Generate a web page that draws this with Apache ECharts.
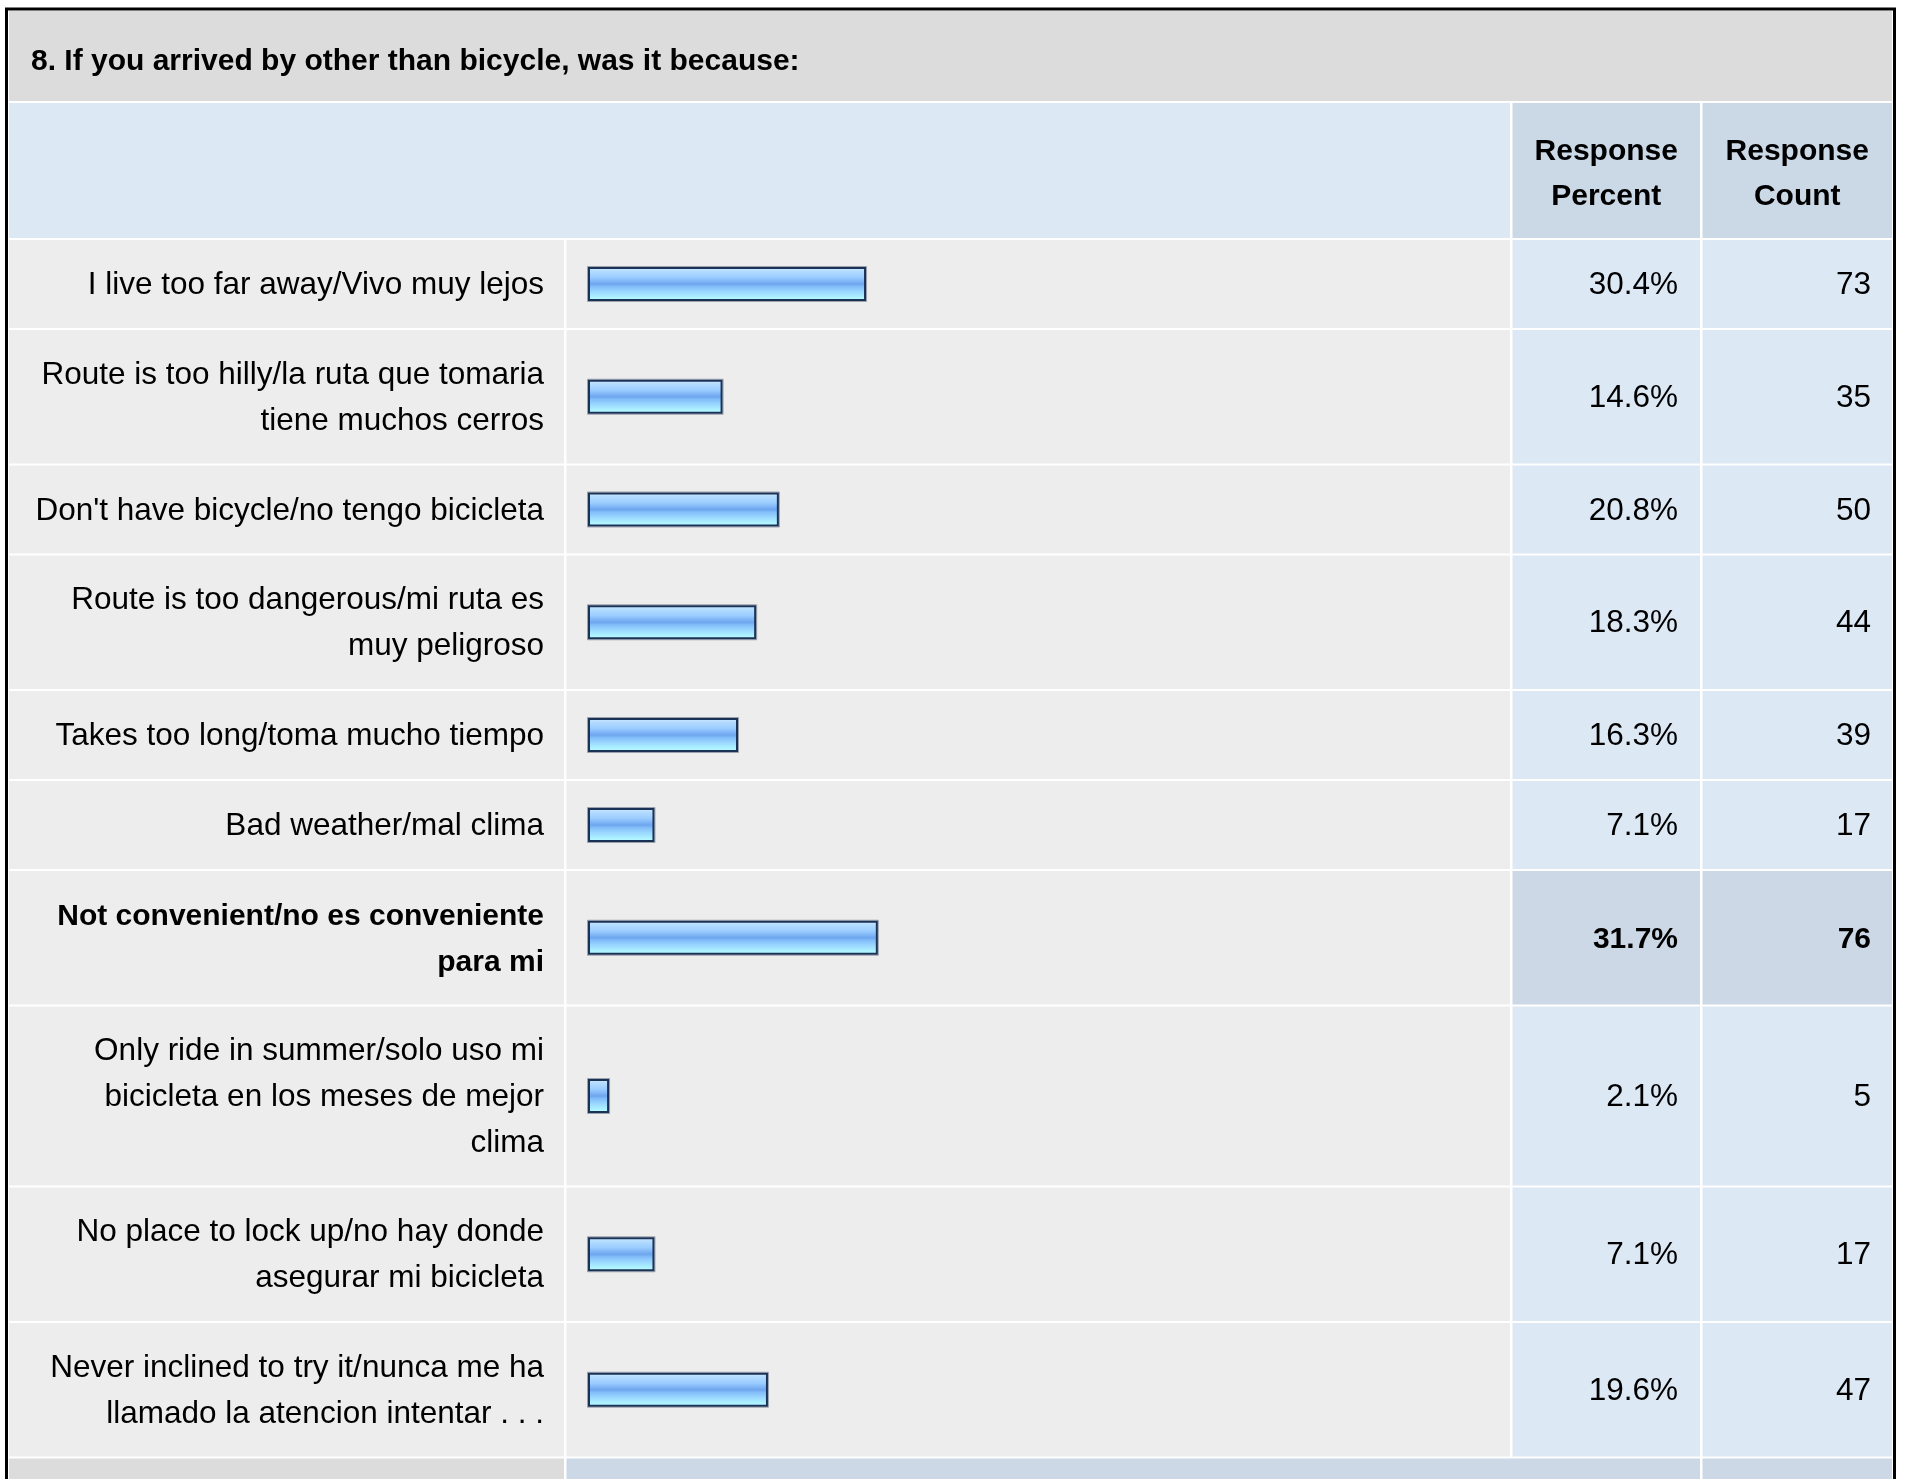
<!DOCTYPE html>
<html>
<head>
<meta charset="utf-8">
<script src="https://cdn.jsdelivr.net/npm/echarts@6/dist/echarts.min.js"></script>
<style>
html,body{margin:0;padding:0;background:#ffffff;}
#chart{width:1911px;height:1479px;}
</style>
</head>
<body>
<div id="chart"></div>
<script>
// ---- data ----
const questionTitle = '8. If you arrived by other than bicycle, was it because:';
const columnHeaders = ['Response\nPercent', 'Response\nCount'];
const categories = [
  'I live too far away/Vivo muy lejos',
  'Route is too hilly/la ruta que tomaria\ntiene muchos cerros',
  "Don't have bicycle/no tengo bicicleta",
  'Route is too dangerous/mi ruta es\nmuy peligroso',
  'Takes too long/toma mucho tiempo',
  'Bad weather/mal clima',
  'Not convenient/no es conveniente\npara mi',
  'Only ride in summer/solo uso mi\nbicicleta en los meses de mejor\nclima',
  'No place to lock up/no hay donde\nasegurar mi bicicleta',
  'Never inclined to try it/nunca me ha\nllamado la atencion intentar . . .'
];
const responsePercent = [30.4, 14.6, 20.8, 18.3, 16.3, 7.1, 31.7, 2.1, 7.1, 19.6];
const responseCount = [73, 35, 50, 44, 39, 17, 76, 5, 17, 47];

// ---- layout ----
const FONT = '"Liberation Sans", Arial, Helvetica, sans-serif';
const REG = '31.5px ' + FONT;
const BOLD = 'bold 30px ' + FONT;
const COL = { label: [9, 564], bar: [566.5, 1510], pct: [1512.5, 1700], count: [1702.5, 1892] };
const TABLE_TOP = 240;
const ROW_BASE = 44.5, LINE_H = 45.5, GAP = 2;
const BAR_LEFT = 589, BAR_FULL = 908;

let acc = 0;
const rows = categories.map((c, i) => {
  const lines = c.split('\n').length;
  const s = acc;
  acc += ROW_BASE + LINE_H * lines;
  return [i, s, acc, responsePercent[i], responseCount[i]];
});
const total = acc;
const maxIdx = responsePercent.indexOf(Math.max(...responsePercent));

const barGradient = {
  type: 'linear', x: 0, y: 0, x2: 0, y2: 1,
  colorStops: [
    { offset: 0, color: '#d4ecff' },
    { offset: 0.12, color: '#b4dcff' },
    { offset: 0.3, color: '#9ccdff' },
    { offset: 0.42, color: '#80b6f6' },
    { offset: 0.5, color: '#6ea5ee' },
    { offset: 0.58, color: '#82bef8' },
    { offset: 0.72, color: '#9ad6ff' },
    { offset: 0.86, color: '#aaeeff' },
    { offset: 1, color: '#bcffff' }
  ]
};

function renderItem(params, api) {
  const i = api.value(0);
  const top = api.coord([0, api.value(1)])[1];
  const bottom = api.coord([0, api.value(2)])[1] - GAP;
  const mid = (top + bottom) / 2;
  const hi = i === maxIdx;
  const numBg = hi ? '#ccd8e6' : '#dde8f5';
  const font = hi ? BOLD : REG;
  const cell = (c, fill) => ({
    type: 'rect',
    shape: { x: c[0], y: top, width: c[1] - c[0], height: bottom - top },
    style: { fill: fill }
  });
  const p0 = api.coord([0, api.value(1)]);
  const p1 = api.coord([api.value(3), api.value(1)]);
  const bw = p1[0] - p0[0];
  const bh = 32;
  return {
    type: 'group',
    children: [
      cell(COL.label, '#ededed'),
      cell(COL.bar, '#ededed'),
      cell(COL.pct, numBg),
      cell(COL.count, numBg),
      {
        type: 'text',
        style: {
          text: categories[i], x: COL.label[1] - 20, y: mid + 1.5,
          align: 'right', verticalAlign: 'middle', lineHeight: 46,
          font: font, fill: '#000000'
        }
      },
      {
        type: 'rect',
        shape: { x: p0[0] - 1.5, y: mid - bh / 2 - 1.5, width: bw + 3, height: bh + 3 },
        style: { fill: 'none', stroke: 'rgba(90,100,120,0.55)', lineWidth: 1 }
      },
      {
        type: 'rect',
        shape: { x: p0[0], y: mid - bh / 2, width: bw, height: bh },
        style: { fill: barGradient, stroke: '#1b3257', lineWidth: 2 }
      },
      {
        type: 'text',
        style: {
          text: api.value(3).toFixed(1) + '%', x: 1678, y: mid + 1.5,
          align: 'right', verticalAlign: 'middle',
          font: font, fill: '#000000'
        }
      },
      {
        type: 'text',
        style: {
          text: String(api.value(4)), x: 1871, y: mid + 1.5,
          align: 'right', verticalAlign: 'middle',
          font: font, fill: '#000000'
        }
      }
    ]
  };
}

const footerTop = TABLE_TOP + total;

const option = {
  backgroundColor: '#ffffff',
  animation: false,
  title: {
    text: questionTitle,
    left: 31, top: 44.5, padding: 0,
    textStyle: { fontFamily: FONT, fontSize: 30, fontWeight: 'bold', color: '#000000', lineHeight: 34 }
  },
  grid: { left: BAR_LEFT, width: BAR_FULL, top: TABLE_TOP, height: total },
  xAxis: { type: 'value', min: 0, max: 100, show: false },
  yAxis: { type: 'value', min: 0, max: total, inverse: true, show: false },
  graphic: [
    { type: 'rect', z: 0, shape: { x: 9, y: 11, width: 1883, height: 90 }, style: { fill: '#dcdcdc' } },
    { type: 'rect', z: 0, shape: { x: 9, y: 103, width: COL.bar[1] - 9, height: 135 }, style: { fill: '#dde8f5' } },
    { type: 'rect', z: 0, shape: { x: COL.pct[0], y: 103, width: COL.pct[1] - COL.pct[0], height: 135 }, style: { fill: '#cbd8e6' } },
    { type: 'rect', z: 0, shape: { x: COL.count[0], y: 103, width: COL.count[1] - COL.count[0], height: 135 }, style: { fill: '#cbd8e6' } },
    { type: 'text', z: 1, style: { text: columnHeaders[0], x: (COL.pct[0] + COL.pct[1]) / 2, y: 174, align: 'center', verticalAlign: 'middle', lineHeight: 45, font: BOLD, fill: '#000000' } },
    { type: 'text', z: 1, style: { text: columnHeaders[1], x: (COL.count[0] + COL.count[1]) / 2, y: 174, align: 'center', verticalAlign: 'middle', lineHeight: 45, font: BOLD, fill: '#000000' } },
    { type: 'rect', z: 0, shape: { x: COL.label[0], y: footerTop, width: COL.label[1] - COL.label[0], height: 60 }, style: { fill: '#dcdcdc' } },
    { type: 'rect', z: 0, shape: { x: COL.bar[0], y: footerTop, width: COL.pct[1] - COL.bar[0], height: 60 }, style: { fill: '#ccd8e6' } },
    { type: 'rect', z: 0, shape: { x: COL.count[0], y: footerTop, width: COL.count[1] - COL.count[0], height: 60 }, style: { fill: '#ccd8e6' } },
    { type: 'rect', z: 100, shape: { x: 6.5, y: 9, width: 1888, height: 1520 }, style: { fill: 'none', stroke: '#000000', lineWidth: 3 } }
  ],
  series: [{
    type: 'custom',
    renderItem: renderItem,
    data: rows,
    encode: { x: 3, y: [1, 2] },
    clip: false,
    silent: true
  }]
};

const chart = echarts.init(document.getElementById('chart'), null, { renderer: 'canvas' });
chart.setOption(option);
</script>
</body>
</html>
